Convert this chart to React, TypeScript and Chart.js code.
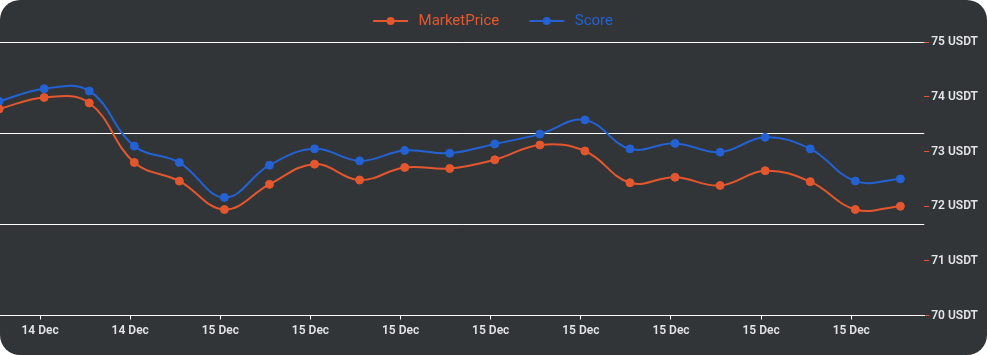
import React, { useEffect, useRef } from "react";
import { Chart, registerables } from "chart.js";

Chart.register(...registerables);

// ---- data ----
const pointIndex = [0, 1, 2, 3, 4, 5, 6, 7, 8, 9, 10, 11, 12, 13, 14, 15, 16, 17, 18, 19, 20];
const marketPrice = [73.78, 73.99, 73.89, 72.8, 72.46, 71.94, 72.4, 72.77, 72.48, 72.71, 72.69, 72.85, 73.12, 73.01, 72.43, 72.53, 72.38, 72.65, 72.45, 71.94, 72.0];
const score = [73.92, 74.15, 74.11, 73.1, 72.8, 72.16, 72.75, 73.05, 72.83, 73.02, 72.97, 73.14, 73.32, 73.58, 73.05, 73.15, 72.99, 73.26, 73.05, 72.46, 72.5];
const xTickPositions = [0.91, 2.91, 4.91, 6.91, 8.91, 10.91, 12.91, 14.91, 16.91, 18.91];
const xTickLabels = ["14 Dec", "14 Dec", "15 Dec", "15 Dec", "15 Dec", "15 Dec", "15 Dec", "15 Dec", "15 Dec", "15 Dec"];
const yTicks = [70, 71, 72, 73, 74, 75];
const yUnit = "USDT";
const gridBands = [0, 1, 2, 3];
const seriesNames = ["MarketPrice", "Score"];

const ORANGE = "#e4572e";
const BLUE = "#2461d3";
const BG = "#313538";

function makeIcon(color: string, left: number) {
  const c = document.createElement("canvas");
  c.width = left + 35 + 3;
  c.height = 12;
  const g = c.getContext("2d")!;
  g.strokeStyle = color;
  g.lineWidth = 2;
  g.beginPath();
  g.moveTo(left, 6);
  g.lineTo(left + 35, 6);
  g.stroke();
  g.fillStyle = color;
  g.beginPath();
  g.arc(left + 17.5, 6, 4, 0, Math.PI * 2);
  g.fill();
  return c;
}

export default function App() {
  const ref = useRef<HTMLCanvasElement>(null);

  useEffect(() => {
    document.body.style.margin = "0";
    const ICON_L = 6;
    const icons = [makeIcon(ORANGE, ICON_L), makeIcon(BLUE, ICON_L)];
    const colors = [ORANGE, BLUE];

    const legendSpacer = {
      id: "legendSpacer",
      beforeInit(chart: any) {
        const orig = chart.legend.fit;
        chart.legend.fit = function () {
          orig.call(this);
          this.height += 3.8;
        };
      },
    };

    const chart = new Chart(ref.current!, {
      type: "line",
      data: {
        datasets: [
          {
            label: seriesNames[0],
            data: pointIndex.map((x, i) => ({ x, y: marketPrice[i] })),
            borderColor: ORANGE,
            backgroundColor: ORANGE,
            pointBackgroundColor: ORANGE,
            pointBorderColor: ORANGE,
            borderWidth: 2,
            pointRadius: 4,
            pointBorderWidth: 1,
            tension: 0.4,
            yAxisID: "y",
          },
          {
            label: seriesNames[1],
            data: pointIndex.map((x, i) => ({ x, y: score[i] })),
            borderColor: BLUE,
            backgroundColor: BLUE,
            pointBackgroundColor: BLUE,
            pointBorderColor: BLUE,
            borderWidth: 2,
            pointRadius: 4,
            pointBorderWidth: 1,
            tension: 0.4,
            yAxisID: "y",
          },
        ],
      },
      options: {
        responsive: false,
        animation: false,
        layout: { autoPadding: false, padding: { top: -10.5, right: 7, bottom: 12.5, left: 0 } },
        plugins: {
          tooltip: { enabled: false },
          legend: {
            position: "top",
            labels: {
              usePointStyle: true,
              pointStyleWidth: ICON_L + 38,
              padding: 30 - ICON_L,
              font: { family: "Roboto", size: 15 },
              generateLabels(ch: any) {
                const items = Chart.defaults.plugins.legend.labels.generateLabels(ch);
                items.forEach((it: any) => {
                  it.pointStyle = icons[it.datasetIndex];
                  it.fontColor = colors[it.datasetIndex];
                });
                return items;
              },
            },
          },
        },
        scales: {
          x: {
            type: "linear",
            min: 0.02,
            max: 20.53,
            afterBuildTicks(scale: any) {
              scale.ticks = xTickPositions.map((v) => ({ value: v }));
            },
            ticks: {
              autoSkip: false,
              maxRotation: 0,
              padding: 4.3,
              color: "#e2e4e5",
              font: { family: "Roboto", size: 12, weight: "600" },
              callback: (_v: any, i: number) => xTickLabels[i],
            },
            grid: { drawOnChartArea: false, drawTicks: true, tickLength: 4, color: "#ffffff" },
            border: { display: true, color: "#ffffff" },
          },
          y: {
            position: "right",
            min: yTicks[0],
            max: yTicks[yTicks.length - 1],
            afterBuildTicks(scale: any) {
              scale.ticks = yTicks.map((v) => ({ value: v }));
            },
            ticks: {
              padding: 2,
              color: "#e2e4e5",
              font: { family: "Roboto", size: 12, weight: "600" },
              callback: (v: any) => `${v} ${yUnit}`,
            },
            grid: { drawOnChartArea: false, drawTicks: true, tickLength: 5, color: ORANGE },
            border: { display: false },
          },
          yGrid: {
            position: "left",
            min: gridBands[0],
            max: gridBands[gridBands.length - 1],
            afterBuildTicks(scale: any) {
              scale.ticks = gridBands.map((v) => ({ value: v }));
            },
            afterFit(scale: any) {
              scale.width = 0;
            },
            ticks: { display: false },
            grid: { color: "#ffffff", lineWidth: 1, drawTicks: false },
            border: { display: false },
          },
        },
      },
      plugins: [legendSpacer],
    } as any);
    return () => chart.destroy();
  }, []);

  return (
    <div
      style={{
        width: 987,
        height: 355,
        background: BG,
        borderRadius: 20,
        overflow: "hidden",
      }}
    >
      <canvas ref={ref} width={987} height={355} style={{ display: "block" }} />
    </div>
  );
}
